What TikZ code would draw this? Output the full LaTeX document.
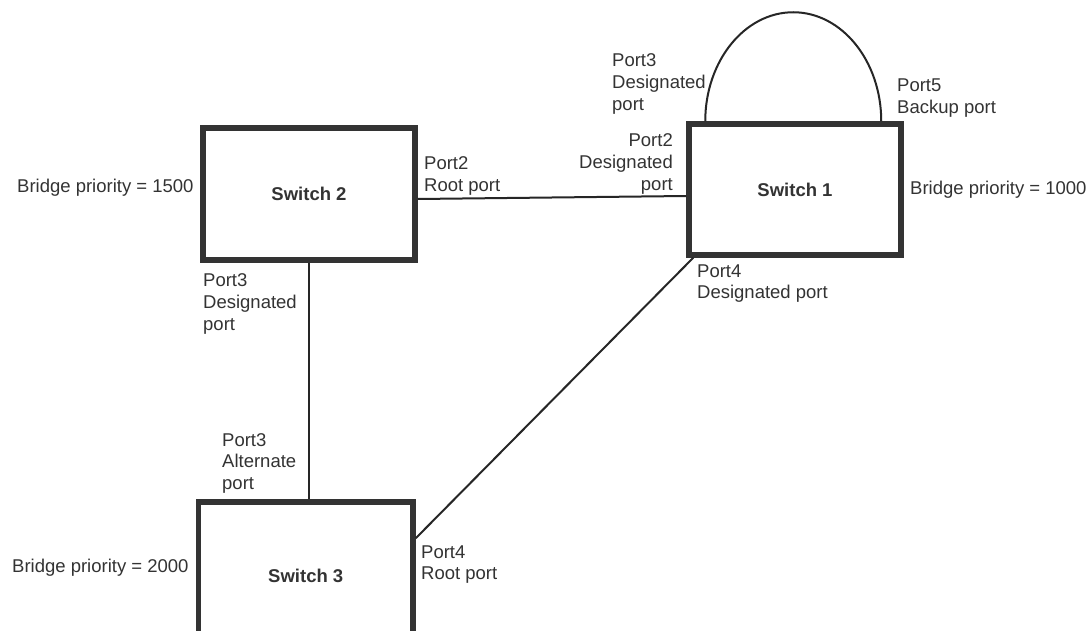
\documentclass[tikz,border=0pt]{standalone}
\usepackage{fontspec}
\setmainfont{Liberation Sans}
\begin{document}
\begin{tikzpicture}[x=1pt,y=-1pt,
  every node/.style={text=black!80},
  switchbox/.style={draw=black!80,line width=5.5pt,rectangle,inner sep=0pt,
    font=\fontsize{18.5}{21.7}\selectfont\bfseries},
  lbl/.style={inner sep=0pt,font=\fontsize{18.5}{21.7}\selectfont},
  link/.style={draw=black!85,line width=2pt}]
\clip (0,0) rectangle (1090,631);
\fill[white] (0,0) rectangle (1090,631);
% switches
\node[switchbox,minimum width=212pt,minimum height=131pt] (s1) at (795,189.5) {Switch 1};
\node[switchbox,minimum width=212pt,minimum height=132pt] (s2) at (309,194) {Switch 2};
\node[switchbox,minimum width=214.5pt,minimum height=148pt] (s3) at (305.75,576) {Switch 3};
% connectors
\draw[link] ([yshift=-5pt]s2.east) -- ([yshift=-6.5pt]s1.west);
\draw[link] (s2.south) -- (s2.south |- s3.north);
\draw[link] ([yshift=-39pt]s3.north east) -- ([xshift=7pt]s1.south west);
\draw[link] ([xshift=19pt]s1.north west) arc[start angle=180,end angle=0,x radius=88pt,y radius=109pt];
% labels
\node[lbl,anchor=base west] (bp2) at (17,193) {Bridge priority = 1500};
\node[lbl,anchor=base west] (bp1) at (910,195) {Bridge priority = 1000};
\node[lbl,anchor=base west] (bp3) at (12,572) {Bridge priority = 2000};
\node[lbl,anchor=base west] (p22) at (424,170) {\begin{tabular}[t]{@{}l@{}}Port2\\Root port\end{tabular}};
\node[lbl,anchor=base west] (p23) at (203,287) {\begin{tabular}[t]{@{}l@{}}Port3\\Designated\\port\end{tabular}};
\node[lbl,anchor=base west] (p33) at (222,446) {\begin{tabular}[t]{@{}l@{}}Port3\\Alternate\\port\end{tabular}};
\node[lbl,anchor=base west] (p34) at (421,558) {\begin{tabular}[t]{@{}l@{}}Port4\\Root port\end{tabular}};
\node[lbl,anchor=base west] (p13) at (612,67) {\begin{tabular}[t]{@{}l@{}}Port3\\Designated\\port\end{tabular}};
\node[lbl,anchor=base east] (p12) at (673,147) {\begin{tabular}[t]{@{}r@{}}Port2\\Designated\\port\end{tabular}};
\node[lbl,anchor=base west] (p15) at (897,91.6) {\begin{tabular}[t]{@{}l@{}}Port5\\Backup port\end{tabular}};
\node[lbl,anchor=base west] (p14) at (697,277) {\begin{tabular}[t]{@{}l@{}}Port4\\Designated port\end{tabular}};
\end{tikzpicture}
\end{document}
